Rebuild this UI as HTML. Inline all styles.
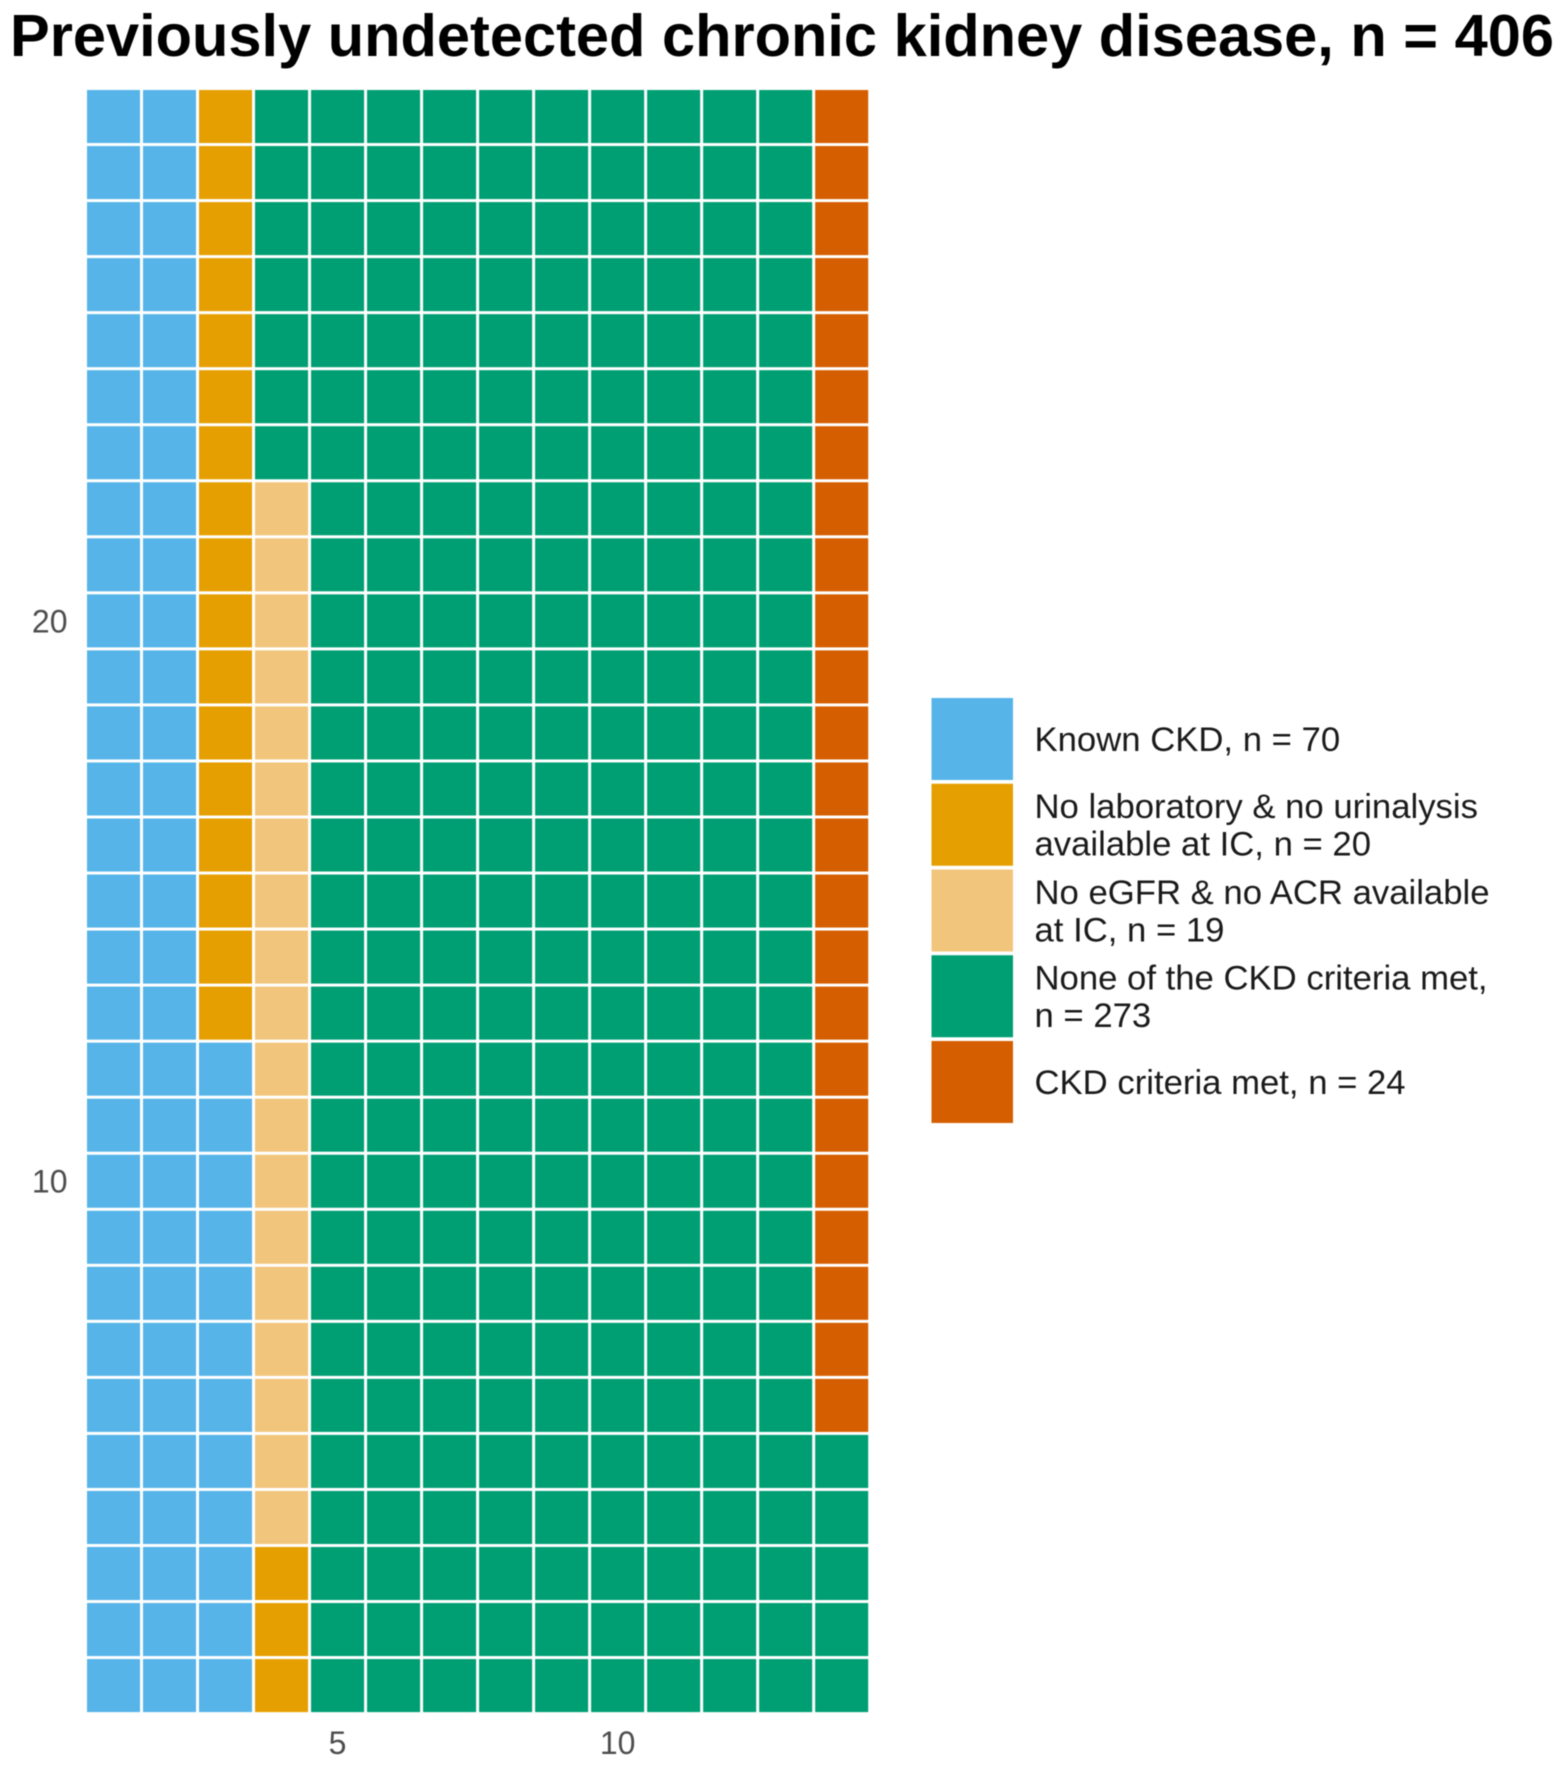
<!DOCTYPE html>
<html lang="en">
<head>
<meta charset="utf-8">
<title>Previously undetected chronic kidney disease</title>
<style>
html,body{margin:0;padding:0;background:#fff;}
body{width:1564px;height:1769px;overflow:hidden;}
svg{display:block;filter:blur(0.6px);font-family:"Liberation Sans",Arial,sans-serif;}
</style>
</head>
<body>
<svg id="chart" xmlns="http://www.w3.org/2000/svg" width="1564" height="1769" viewBox="0 0 1564 1769">
  <rect x="0" y="0" width="1564" height="1769" fill="#ffffff"/>
  <text id="chart-title" x="10" y="56" font-size="59" font-weight="700" fill="#000000" textLength="1544" lengthAdjust="spacingAndGlyphs">Previously undetected chronic kidney disease, n = 406</text>
  <g id="tiles"></g>
  <g id="x-axis"></g>
  <g id="y-axis"></g>
  <g id="legend"></g>
</svg>
<script>
const categories = ["known-ckd", "no-laboratory", "no-egfr-acr", "no-criteria-met", "ckd-criteria-met"];
const counts = [70, 20, 19, 273, 24];
const colors = ["#56B4E9", "#E69F00", "#F2C57C", "#009E73", "#D55E00"];
const legendLabels = [
  ["Known CKD, n = {n}"],
  ["No laboratory & no urinalysis", "available at IC, n = {n}"],
  ["No eGFR & no ACR available", "at IC, n = {n}"],
  ["None of the CKD criteria met,", "n = {n}"],
  ["CKD criteria met, n = {n}"]
];
const rowsPerColumn = 29;
const columnCount = 14;
const xTicks = [5, 10];
const yTicks = [10, 20];

const NS = "http://www.w3.org/2000/svg";
const plot = { left: 85.5, right: 869.7, top: 88.5, bottom: 1713.6 };
const stepX = (plot.right - plot.left) / columnCount;
const stepY = (plot.bottom - plot.top) / rowsPerColumn;
const gap = 3;

function xCenter(col) { return plot.left + (col - 0.5) * stepX; }
function yCenter(row) { return plot.bottom - (row - 0.5) * stepY; }

function make(tag, attrs, parent) {
  const el = document.createElementNS(NS, tag);
  for (const k in attrs) el.setAttribute(k, attrs[k]);
  parent.appendChild(el);
  return el;
}

const tilesGroup = document.getElementById("tiles");
let index = 0;
categories.forEach(function (cat, c) {
  for (let i = 0; i < counts[c]; i++) {
    const col = Math.floor(index / rowsPerColumn) + 1;
    const row = (index % rowsPerColumn) + 1;
    const tile = make("rect", {
      x: xCenter(col) - (stepX - gap) / 2,
      y: yCenter(row) - (stepY - gap) / 2,
      width: stepX - gap,
      height: stepY - gap,
      fill: colors[c]
    }, tilesGroup);
    
    
    index++;
  }
});

const xAxis = document.getElementById("x-axis");
xTicks.forEach(function (t) {
  const label = make("text", {
    x: xCenter(t), y: 1754, "font-size": 32, fill: "#4D4D4D", "text-anchor": "middle"
  }, xAxis);
  
  
  label.textContent = t;
});

const yAxis = document.getElementById("y-axis");
yTicks.forEach(function (t) {
  const label = make("text", {
    x: 67.5, y: yCenter(t) + 11.5, "font-size": 32, fill: "#4D4D4D", "text-anchor": "end"
  }, yAxis);
  
  
  label.textContent = t;
});

const legend = document.getElementById("legend");
const keyTop = 698, keyStep = 85.75, keyW = 81.5, keyH = 82, keyX = 931.5, textX = 1034.5, lineH = 37.5;
categories.forEach(function (cat, c) {
  const top = keyTop + c * keyStep;
  const key = make("rect", { x: keyX, y: top, width: keyW, height: keyH, fill: colors[c] }, legend);
  
  
  const lines = legendLabels[c];
  const mid = top + keyH / 2;
  lines.forEach(function (line, i) {
    const baseline = mid + 12 + (i - (lines.length - 1) / 2) * lineH;
    const label = make("text", { x: textX, y: baseline, "font-size": 34.7, fill: "#1a1a1a" }, legend);
    
    
    label.textContent = line.replace("{n}", counts[c]);
  });
});
</script>
</body>
</html>
